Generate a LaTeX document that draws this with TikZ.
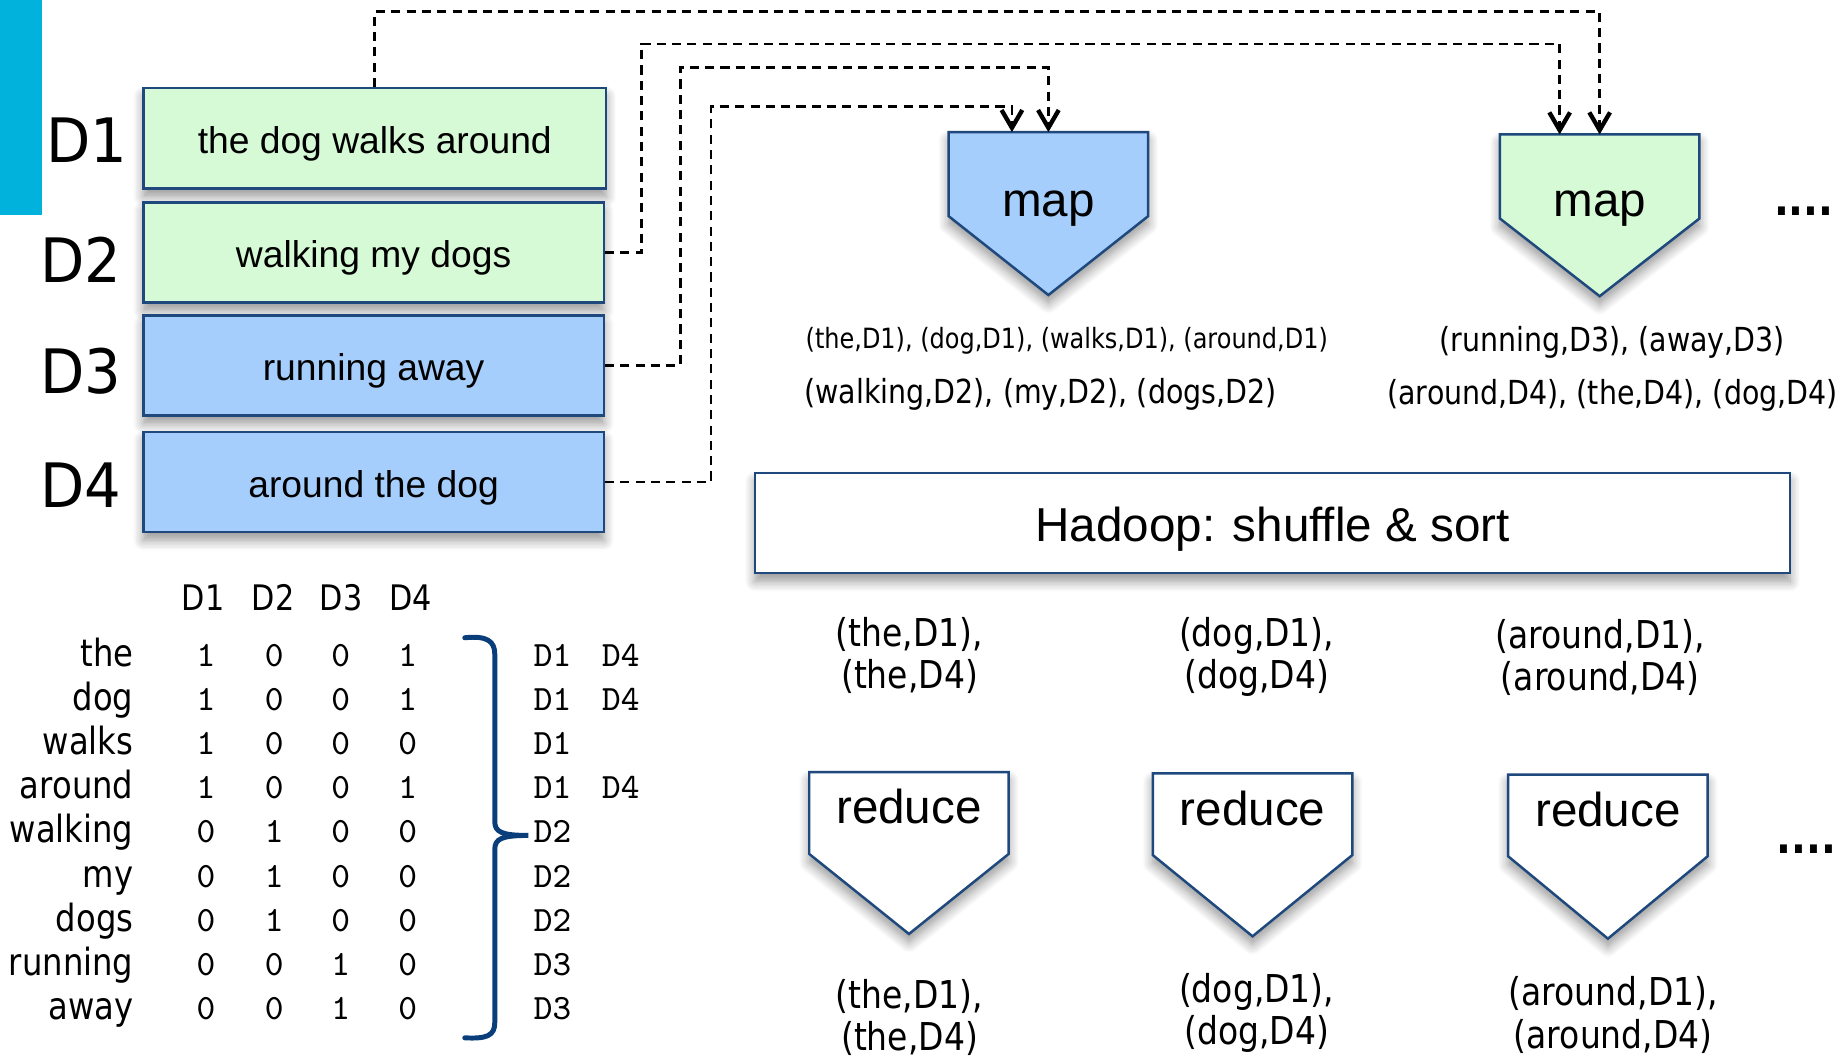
\documentclass[tikz,border=0pt]{standalone}
\usepackage{fontspec}
\setmainfont{Liberation Sans}
\newfontfamily\tah{DejaVu Sans}[FakeStretch=0.86]
\newfontfamily\tahw{DejaVu Sans}[FakeStretch=0.94]
\newfontfamily\mono{Latin Modern Mono}
\usetikzlibrary{arrows.meta,calc,shadows.blur}

\definecolor{edgeblue}{RGB}{31,73,125}
\definecolor{greenfill}{RGB}{213,250,213}
\definecolor{bluefill}{RGB}{166,206,252}
\definecolor{barcyan}{RGB}{0,178,220}
\definecolor{bracecol}{RGB}{10,62,122}

\tikzset{
  softshadow/.style={blur shadow={shadow xshift=0pt, shadow yshift=-2pt,
      shadow blur radius=2.5pt, shadow blur steps=8, shadow opacity=42}},
  docbox/.style={draw=edgeblue, line width=0.6pt, minimum width=3.91cm,
      minimum height=0.85cm, inner sep=0pt, text height=7.4pt, text depth=0pt,
      font=\fontsize{9}{11}\selectfont, softshadow},
  doclabel/.style={font=\tahw\fontsize{14.8}{16}\selectfont, inner sep=0pt, anchor=base east},
  procframe/.style={draw=none, minimum width=1.68cm, minimum height=0.70cm, inner sep=0pt},
  procshape/.style={draw=edgeblue, line width=0.6pt, softshadow},
  proclabel/.style={font=\fontsize{11.5}{13}\selectfont, inner sep=0pt, anchor=base},
  flow/.style={draw=black, line width=0.65pt, dash pattern=on 2.2pt off 1.5pt,
      -{Straight Barb[length=4.3pt, width=5pt, line width=1.05pt]}},
  pairtext/.style={font=\tah\fontsize{9.27}{10.24}\selectfont, align=center, inner sep=0pt},
  maptext/.style={font=\tah\fontsize{8}{9}\selectfont, inner sep=0pt},
  wordlabel/.style={font=\tah\fontsize{9.06}{10}\selectfont, inner sep=0pt, anchor=base east},
  colhead/.style={font=\tah\fontsize{8.5}{10}\selectfont, inner sep=0pt, anchor=base},
  bit/.style={font=\mono\fontsize{8.6}{10}\selectfont, inner sep=0pt, anchor=base},
  postlist/.style={font=\mono\fontsize{8.6}{10}\selectfont, inner sep=0pt, anchor=base west},
  moredots/.style={font=\tah\bfseries\fontsize{11}{12}\selectfont, inner sep=0pt, anchor=base},
}

\begin{document}
\begin{tikzpicture}[x=0.01cm, y=-0.01cm]
\useasboundingbox (0,0) rectangle (1568,899);

% accent bar
\fill[barcyan] (0,0) rectangle (36,183);

% input documents
\node[docbox, fill=greenfill] (d1) at (318.5,117.5) [minimum width=3.93cm] {the dog walks around};
\node[docbox, fill=greenfill] (d2) at (317.5,214.5) {walking my dogs};
\node[docbox, fill=bluefill]  (d3) at (317.5,310.5) {running away};
\node[docbox, fill=bluefill]  (d4) at (317.5,409.5) {around the dog};

\node[doclabel] (l1) at (109,138) {D1};
\node[doclabel] (l2) at (104,240) {D2};
\node[doclabel] (l3) at (104,334) {D3};
\node[doclabel] (l4) at (104,431) {D4};

% mappers
\node[procframe] (map1) at (891,148) {};
\path[procshape, fill=bluefill] (map1.north west) -- (map1.north east) -- (map1.south east)
  -- ($(map1.south)+(0,67)$) -- (map1.south west) -- cycle;
\node[proclabel] (map1label) at (891,184) {map};

\node[procframe] (map2) at (1359.5,150) {};
\path[procshape, fill=greenfill] (map2.north west) -- (map2.north east) -- (map2.south east)
  -- ($(map2.south)+(0,66)$) -- (map2.south west) -- cycle;
\node[proclabel] (map2label) at (1359.5,184) {map};

\node[moredots] (mapmore) at (1533,183) {....};

% document routing
\draw[flow] (d1.north) -- ++(0,-64) -| (map2.north);
\draw[flow] (d2.east) -- ++(31,0) |- ($(map2.north)+(-34,-77)$) -- ($(map2.north)+(-34,0)$);
\draw[flow] (d3.east) -- ++(64,0) |- ($(map1.north)+(0,-55)$) -- (map1.north);
\draw[flow] (d4.east) -- ++(90,0) |- ($(map1.north)+(-31,-21.5)$) -- ($(map1.north)+(-31,0)$);

% mapper output
\node[maptext, anchor=west, font=\tah\fontsize{6.74}{8}\selectfont] (m1a) at (684,290)
  {(the,D1), (dog,D1), (walks,D1), (around,D1)};
\node[maptext, anchor=west] (m1b) at (683,335) {(walking,D2), (my,D2), (dogs,D2)};
\node[maptext] (m2a) at (1370,291) {(running,D3), (away,D3)};
\node[maptext] (m2b) at (1370.5,336) {(around,D4), (the,D4), (dog,D4)};

% shuffle
\node[draw=edgeblue, line width=0.6pt, fill=white, minimum width=8.79cm, minimum height=0.85cm,
  inner sep=0pt, text height=8.8pt, text depth=0pt, font=\fontsize{11.5}{13}\selectfont,
  softshadow] (shuffle) at (1081.5,444.5) {Hadoop: shuffle \& sort};

\node[pairtext] (s1) at (773,557) {(the,D1),\\(the,D4)};
\node[pairtext] (s2) at (1068,558.5) {(dog,D1),\\(dog,D4)};
\node[pairtext] (s3) at (1360,559) {(around,D1),\\(around,D4)};

% reducers
\node[procframe, minimum height=0.68cm] (r1) at (772.5,691) {};
\path[procshape, fill=white] (r1.north west) -- (r1.north east) -- (r1.south east)
  -- ($(r1.south)+(0,68)$) -- (r1.south west) -- cycle;
\node[proclabel] (r1label) at (772.5,700) {reduce};

\node[procframe, minimum height=0.68cm] (r2) at (1064.5,692) {};
\path[procshape, fill=white] (r2.north west) -- (r2.north east) -- (r2.south east)
  -- ($(r2.south)+(0,69)$) -- (r2.south west) -- cycle;
\node[proclabel] (r2label) at (1064.5,701.5) {reduce};

\node[procframe, minimum height=0.68cm] (r3) at (1366.5,693) {};
\path[procshape, fill=white] (r3.north west) -- (r3.north east) -- (r3.south east)
  -- ($(r3.south)+(0,70)$) -- (r3.south west) -- cycle;
\node[proclabel] (r3label) at (1366.5,702.5) {reduce};

\node[moredots] (redmore) at (1535,725) {....};

\node[pairtext] (o1) at (773,864.5) {(the,D1),\\(the,D4)};
\node[pairtext] (o2) at (1068,861) {(dog,D1),\\(dog,D4)};
\node[pairtext] (o3) at (1371,862.5) {(around,D1),\\(around,D4)};

% term-document matrix
\node[colhead] (h1) at (172.6,519) {D1};
\node[colhead] (h2) at (232,519) {D2};
\node[colhead] (h3) at (290,519) {D3};
\node[colhead] (h4) at (349,519) {D4};

\foreach \w/\a/\b/\c/\d/\p [count=\i from 0] in {
    the/1/0/0/1/{D1},
    dog/1/0/0/1/{D1},
    walks/1/0/0/0/{D1},
    around/1/0/0/1/{D1},
    walking/0/1/0/0/{D2},
    my/0/1/0/0/{D2},
    dogs/0/1/0/0/{D2},
    running/0/0/1/0/{D3},
    away/0/0/1/0/{D3}} {
  \pgfmathsetmacro\yy{566+37.6*\i}
  \node[wordlabel] (w\i) at (114,\yy) {\w};
  \node[bit] (b\i a) at (175,\yy) {\a};
  \node[bit] (b\i b) at (233,\yy) {\b};
  \node[bit] (b\i c) at (289.5,\yy) {\c};
  \node[bit] (b\i d) at (346.5,\yy) {\d};
  \node[postlist] (p\i) at (453,\yy) {\p};
}
\node[postlist] (q0) at (511,566) {D4};
\node[postlist] (q1) at (511,603.6) {D4};
\node[postlist] (q3) at (511,678.8) {D4};

% brace gathering the rows
\draw[bracecol, line width=1.2pt, line cap=round]
  (395,542) .. controls (414,540) and (420.5,545) .. (420.5,556)
  -- (420.5,698) .. controls (420.5,707) and (426,710) .. (449,710)
  .. controls (426,710) and (420.5,713) .. (420.5,722)
  -- (420.5,869) .. controls (420.5,880) and (414,883) .. (395,882);
\end{tikzpicture}
\end{document}
